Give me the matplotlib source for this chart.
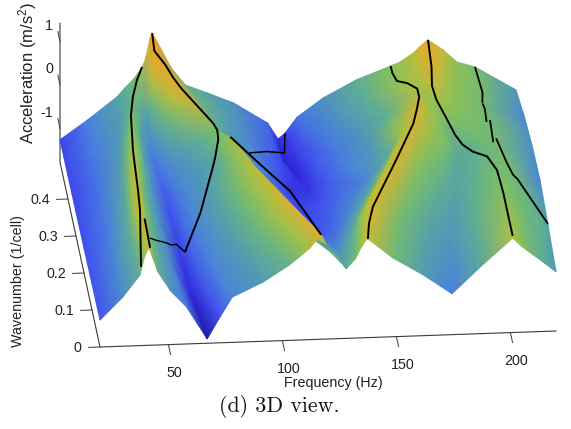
#!/usr/bin/env python3
"""3D view of dispersion surface with mode curves (drawn with a fixed orthographic view)."""

import numpy as np
import matplotlib
matplotlib.use("Agg")
import matplotlib.pyplot as plt
from matplotlib.colors import LinearSegmentedColormap

plt.rcParams['font.family'] = ['Liberation Sans', 'DejaVu Sans']
plt.rcParams['mathtext.default'] = 'regular'

# wavenumber rows of the surface
WAVENUMBERS = [0, 0.1, 0.2, 0.3, 0.35, 0.4, 0.45, 0.5]

# each entry is one line across the surface, frequency per wavenumber row
SURF_FREQ = [
    [20, 20, 20, 20, 20, 20, 20, 20],
    [30, 30, 31, 31, 32, 32, 32, 32],
    [37.5, 37, 38, 40, 41, 43, 45, 45],
    [39.7, 39.3, 40.5, 42.8, 44, 45.7, 47.5, 48.5],
    [41.5, 41, 42.5, 45, 46.5, 48, 50, 52],
    [43.5, 43, 44.5, 47, 48.2, 49.5, 51, 52.5],
    [45.4, 45, 46.5, 49, 50, 51, 52.5, 53],
    [51, 49, 49, 50.5, 51, 51.5, 53, 54],
    [58, 54, 52.5, 53, 53, 53, 54, 55.5],
    [67, 63, 61.5, 60.5, 59, 57, 56, 57],
    [72.6, 67.7, 65.3, 63.6, 61.8, 58.4, 56.6, 57.4],
    [78, 72.4, 69.1, 66.8, 64.5, 59.9, 57.2, 57.8],
    [91.5, 83.8, 78.4, 74.5, 71.3, 63.4, 58.7, 58.7],
    [103, 93.6, 86.3, 81, 77, 66.4, 60, 59.5],
    [112, 100.5, 91.7, 85.5, 81, 68.5, 61, 60],
    [117, 105.5, 96, 89, 84, 70, 61.5, 60.4],
    [120, 109, 100, 92, 88, 85, 78, 71],
    [121.5, 114, 106, 100, 96, 92, 90, 84.5],
    [123, 118, 112, 108, 104, 100, 98, 96],
    [126, 124, 120, 118, 116, 113, 112, 111],
    [128, 128, 128, 127, 124, 121, 116, 115.6],
    [132, 134, 136, 136, 132, 128, 122, 118.7],
    [134.5, 137.5, 143, 148, 140, 137, 130, 124],
    [136, 140, 150, 158, 152, 147, 140, 135.4],
    [136.8, 141.5, 153, 163, 160, 160, 152, 150],
    [137.5, 145, 157, 168, 172, 173.5, 166, 165],
    [148.5, 155, 166, 176, 178, 176, 170, 169],
    [161.7, 167, 176, 184, 182, 178, 175, 175],
    [174.4, 177, 183, 187, 183, 179, 177.5, 178],
    [186.7, 188, 191, 190.5, 184, 179.8, 179.3, 179.7],
    [201, 202, 202, 194, 185, 180.5, 181, 181.4],
    [205, 206, 204, 195.5, 189, 185, 185, 188],
    [210, 210, 206, 197, 193, 190, 190, 194],
    [215, 218, 209, 205, 204, 202, 203, 202],
    [220, 220, 220, 220, 220, 220, 220, 220],
]

# acceleration on those same lines
SURF_ACC = [
    [-1.15, -1.17, -1.2, -1.22, -1.23, -1.24, -1.25, -1.26],
    [-0.64, -0.75, -0.85, -0.9, -0.9, -0.88, -0.85, -0.83],
    [-0.15, -0.1, -0.2, -0.3, -0.4, -0.4, -0.35, -0.32],
    [0.3, 0.35, 0.25, 0.1, 0, -0.1, -0.2, -0.12],
    [0.47, 0.6, 0.55, 0.38, 0.25, 0.1, -0.03, 0.06],
    [0.19, 0.32, 0.27, 0.15, 0.05, 0, -0.04, 0.09],
    [-0.09, 0.05, 0, -0.05, -0.1, -0.1, -0.05, 0.12],
    [-0.54, -0.3, -0.25, -0.3, -0.3, -0.25, -0.1, 0.2],
    [-0.92, -0.65, -0.55, -0.55, -0.5, -0.4, -0.15, 0.28],
    [-1.67, -1.45, -1.3, -1.2, -1.05, -0.9, -0.4, 0.45],
    [-1.18, -1.1, -1, -0.95, -0.8, -0.6, -0.2, 0.5],
    [-0.73, -0.8, -0.75, -0.72, -0.6, -0.35, -0.05, 0.6],
    [-0.41, -0.35, -0.3, -0.45, -0.3, 0, 0.35, 0.8],
    [-0.04, 0.05, 0.05, -0.25, -0.1, 0.35, 0.7, 1],
    [0.33, 0.35, 0.3, 0.1, 0, 0.55, 0.87, 1.07],
    [0.63, 0.6, 0.47, 0.32, 0.1, 0.68, 1, 1.12],
    [0.34, 0.15, -0.5, -0.5, -0.35, -0.15, 0, -0.02],
    [0.25, -0.1, -0.7, -0.75, -0.6, -0.45, -0.35, -0.3],
    [0.15, -0.35, -0.9, -1, -0.85, -0.7, -0.6, -0.55],
    [-0.04, -0.5, -1.15, -1.3, -1.35, -1.2, -1.1, -1.04],
    [-0.17, -0.62, -1.05, -1.2, -1.35, -1.45, -1.5, -1.42],
    [0.05, -0.2, -0.7, -1, -1.1, -1.15, -1.3, -1.29],
    [0.3, 0.15, -0.3, -0.7, -0.85, -0.9, -0.95, -0.93],
    [0.42, 0.4, 0.2, -0.1, -0.45, -0.55, -0.55, -0.51],
    [0.48, 0.5, 0.45, 0.35, 0.1, -0.1, -0.15, -0.12],
    [0.5, 0.55, 0.55, 0.55, 0.55, 0.42, 0.25, 0.17],
    [0.04, 0.05, 0.1, 0.25, 0.3, 0.3, 0.3, 0.25],
    [-0.37, -0.3, -0.15, 0.05, 0.15, 0.3, 0.4, 0.45],
    [-0.83, -0.5, -0.3, -0.2, 0.05, 0.35, 0.5, 0.6],
    [-0.24, -0.15, -0.1, -0.2, 0.08, 0.38, 0.56, 0.67],
    [0.4, 0.27, 0.1, -0.15, 0.12, 0.42, 0.62, 0.74],
    [0.2, 0.16, 0.1, -0.08, 0.11, 0.32, 0.45, 0.5],
    [0, 0.02, 0.08, 0, 0.1, 0.2, 0.25, 0.21],
    [-0.2, -0.12, 0.05, 0.05, 0.05, 0.05, 0.07, 0.08],
    [-0.41, -0.18, 0, -0.05, -0.13, -0.22, -0.35, -0.48],
]

# the right edge is bluer than its height gives
RIGHT_EDGE_COLOR = [-0.45, -0.3, -0.75, -0.6, -0.55, -0.75, -0.55, -0.45]

# crest column, what lies behind it is painted first
CREST_COL = 15

# mode curves: (frequency, wavenumber, acceleration)
CURVE_A_F = [60.4, 60, 64, 67, 69.7, 73, 80, 82.5, 84, 84, 81.5, 80, 72, 63.6]
CURVE_A_K = [0.5, 0.46, 0.44, 0.42, 0.405, 0.39, 0.365, 0.36, 0.358, 0.345, 0.315, 0.3, 0.226, 0.18]
CURVE_A_Z = [1.12, 1.05, 0.9, 0.75, 0.65, 0.55, 0.3, 0.18, 0.05, -0.05, -0.22, -0.3, -0.7, -1.2]

CURVE_A2_F = [63.6, 59, 56, 54, 51, 48.4, 43.5]
CURVE_A2_K = [0.18, 0.155, 0.14, 0.13, 0.115, 0.097, 0.046]
CURVE_A2_Z = [-1.2, -0.8, -0.68, -0.55, -0.38, -0.2, 0.3]

CURVE_B_F = [56, 53.6, 51, 47.6, 45.6, 43.8, 42.7, 41.6, 40.6, 38]
CURVE_B_K = [0.5, 0.495, 0.473, 0.4, 0.33, 0.266, 0.21, 0.14, 0.087, 0]
CURVE_B_Z = [0.35, 0.1, -0.1, 0.1, 0.3, 0.45, 0.55, 0.6, 0.6, 0.04]

CURVE_B2_F = [42, 42]
CURVE_B2_K = [0.07, 0]
CURVE_B2_Z = [0.55, 0.47]

CURVE_C_F = [117, 107.7, 97.8, 88]
CURVE_C_K = [0, 0.124, 0.216, 0.31]
CURVE_C_Z = [0.63, 0.6, 0.45, 0.3]

CURVE_D_F = [118.7, 117, 107.5, 96]
CURVE_D_K = [0.5, 0.46, 0.407, 0.3]
CURVE_D_Z = [-1.29, -1.4, -0.9, 0]

CURVE_E_F = [137.5, 139.4, 142.5, 157, 168, 171, 173, 173.5, 170, 166, 165, 165]
CURVE_E_K = [0, 0.04, 0.08, 0.203, 0.3, 0.34, 0.37, 0.41, 0.435, 0.45, 0.477, 0.5]
CURVE_E_Z = [0.5, 0.52, 0.55, 0.55, 0.55, 0.55, 0.55, 0.4, 0.32, 0.25, 0.2, 0.17]

CURVE_F_F = [201, 202, 202, 202, 199.6, 194, 190, 187.4, 184.6, 181, 180, 181, 181.4]
CURVE_F_K = [0, 0.145, 0.19, 0.225, 0.28, 0.3, 0.314, 0.333, 0.354, 0.385, 0.41, 0.445, 0.5]
CURVE_F_Z = [0.45, 0.2, 0.12, 0.05, -0.1, -0.15, -0.1, -0.03, 0.15, 0.35, 0.45, 0.6, 0.74]

CURVE_G1_F = [202, 203, 202]
CURVE_G1_K = [0.5, 0.435, 0.407]
CURVE_G1_Z = [0.08, 0.05, 0.05]
CURVE_G2_F = [202, 202.5, 202]
CURVE_G2_K = [0.405, 0.39, 0.355]
CURVE_G2_Z = [0.05, 0.05, 0.05]
CURVE_G3_F = [203.7, 203]
CURVE_G3_K = [0.36, 0.3]
CURVE_G3_Z = [0.05, 0.05]
CURVE_G4_F = [204.6, 207, 208.6, 210, 220]
CURVE_G4_K = [0.31, 0.243, 0.21, 0.2, 0.1]
CURVE_G4_Z = [0.05, 0.05, 0.05, 0.05, -0.16]

CURVES = [
    (CURVE_A_F, CURVE_A_K, CURVE_A_Z, 1.4),
    (CURVE_A2_F, CURVE_A2_K, CURVE_A2_Z, 1.0),
    (CURVE_B_F, CURVE_B_K, CURVE_B_Z, 1.4),
    (CURVE_B2_F, CURVE_B2_K, CURVE_B2_Z, 1.4),
    (CURVE_C_F, CURVE_C_K, CURVE_C_Z, 1.4),
    (CURVE_D_F, CURVE_D_K, CURVE_D_Z, 1.1),
    (CURVE_E_F, CURVE_E_K, CURVE_E_Z, 1.4),
    (CURVE_F_F, CURVE_F_K, CURVE_F_Z, 1.4),
    (CURVE_G1_F, CURVE_G1_K, CURVE_G1_Z, 1.3),
    (CURVE_G2_F, CURVE_G2_K, CURVE_G2_Z, 1.3),
    (CURVE_G3_F, CURVE_G3_K, CURVE_G3_Z, 1.3),
    (CURVE_G4_F, CURVE_G4_K, CURVE_G4_Z, 1.3),
]

FREQ_TICKS = [50, 100, 150, 200]
WAVE_TICKS = [0, 0.1, 0.2, 0.3, 0.4]
WAVE_TICK_LABELS = ['0', '0.1', '0.2', '0.3', '0.4']
ACC_TICKS = [-1, 0, 1]

F_MIN, F_MAX = 20, 220
K_MAX = 0.5
Z_MIN, Z_MAX = -1.77, 1.42

# parula-like colours against acceleration
COLOR_LEVELS = [-1.75, -1.45, -1.2, -0.85, -0.45, -0.1, 0.15, 0.4, 0.6, 1.15]
COLOR_HEX = ['#1a1590', '#3025e0', '#4050f0', '#4a80e0', '#5098b8',
             '#60b090', '#80c060', '#b0c040', '#dcb030', '#eaa030']


def project(f, k, z):
    """orthographic view, result is in figure pixels"""
    f, k, z = np.asarray(f, float), np.asarray(k, float), np.asarray(z, float)
    x = 100 + 2.28 * (f - F_MIN) - 80 * k
    y = 347 - 0.08 * (f - F_MIN) - 370 * k - 43.5 * (z - Z_MIN)
    return x, y


def main():
    fig = plt.figure(figsize=(5.71, 4.29), dpi=100)
    ax = fig.add_axes([0, 0, 1, 1])
    ax.set_xlim(0, 571)
    ax.set_ylim(429, 0)
    ax.axis('off')

    # rows run back to front so the front of the surface covers the rest
    freq = np.array(SURF_FREQ).T[::-1]
    acc = np.array(SURF_ACC).T[::-1]
    color = acc.copy()
    color[:, -1] = RIGHT_EDGE_COLOR[::-1]
    wave = np.array(WAVENUMBERS)[::-1][:, None] * np.ones_like(freq)
    X, Y = project(freq, wave, acc)

    span = COLOR_LEVELS[-1] - COLOR_LEVELS[0]
    stops = [(v - COLOR_LEVELS[0]) / span for v in COLOR_LEVELS]
    cmap = LinearSegmentedColormap.from_list('surf', list(zip(stops, COLOR_HEX)), N=512)
    mesh_opts = dict(shading='gouraud', cmap=cmap, vmin=COLOR_LEVELS[0], vmax=COLOR_LEVELS[-1], zorder=2)
    c = CREST_COL
    ax.pcolormesh(X[:, c:], Y[:, c:], color[:, c:], **mesh_opts)
    ax.pcolormesh(X[:, :c + 1], Y[:, :c + 1], color[:, :c + 1], **mesh_opts)

    for cf, ck, cz, lw in CURVES:
        px, py = project(cf, ck, cz)
        ax.plot(px, py, color='black', lw=lw, zorder=3, solid_capstyle='butt')

    # box edges
    axis_color = '#3a3a3a'
    px, py = project([F_MIN, F_MIN, F_MIN, F_MAX], [K_MAX, K_MAX, 0, 0], [Z_MAX, Z_MIN, Z_MIN, Z_MIN])
    ax.plot(px, py, color=axis_color, lw=0.8, zorder=1)

    tick_size = 10.3
    for t in FREQ_TICKS:
        px, py = project([t, t], [0, -0.027], [Z_MIN, Z_MIN])
        ax.plot(px, py, color=axis_color, lw=0.7, zorder=1)
        lx, ly = project(t, -0.077, Z_MIN)
        ax.text(lx, ly, str(t), fontsize=tick_size, ha='center', va='center', color='#222222')
    for t, lab in zip(WAVE_TICKS, WAVE_TICK_LABELS):
        px, py = project([F_MIN, F_MIN - 5], [t, t], [Z_MIN, Z_MIN])
        ax.plot(px, py, color=axis_color, lw=0.7, zorder=1)
        lx, ly = project(F_MIN - 8, t, Z_MIN)
        ax.text(lx, ly, lab, fontsize=tick_size, ha='right', va='center', color='#222222')
    for t in ACC_TICKS:
        px, py = project([F_MIN, F_MIN], [K_MAX, K_MAX + 0.027], [t, t])
        ax.plot(px, py, color=axis_color, lw=0.7, zorder=1)
        lx, ly = project(F_MIN - 1.5, K_MAX + 0.043, t)
        ax.text(lx, ly, str(t), fontsize=tick_size, ha='right', va='center', color='#222222')

    ax.text(333, 383, 'Frequency (Hz)', fontsize=10.3, ha='center', va='center', color='#222222')
    ax.text(18, 281, 'Wavenumber (1/cell)', fontsize=10.3, rotation=90, ha='center', va='center', color='#222222')
    ax.text(28, 73, 'Acceleration (m/s$^2$)', fontsize=12, rotation=90, ha='center', va='center', color='#222222')
    ax.text(279, 407, '(d) 3D view.', family='cmr10', fontsize=15.8, ha='center', va='center', color='#111111')

    fig.savefig('out.png', dpi=100, facecolor='white')


if __name__ == "__main__":
    main()
